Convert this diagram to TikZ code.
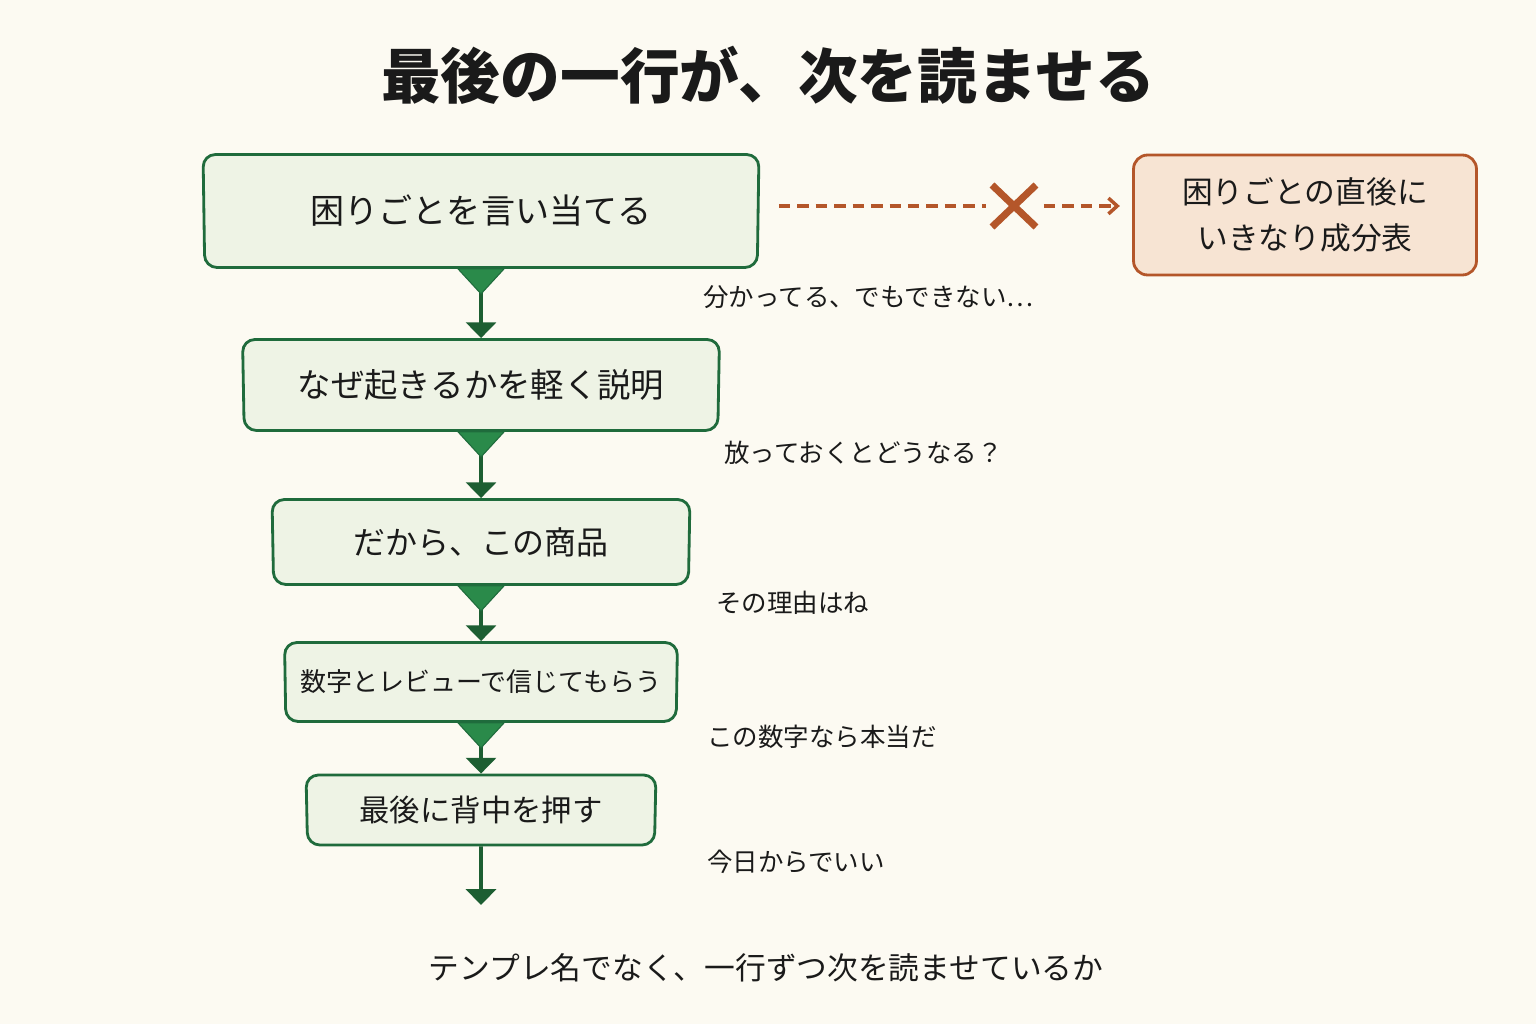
\documentclass[tikz,border=0pt]{standalone}
\usepackage{fontspec}
\setmainfont{Noto Sans CJK JP}
\usepackage{tikz}
\usetikzlibrary{arrows.meta, positioning, shapes.geometric, calc}
\definecolor{paper}{HTML}{FCFAF2}
\definecolor{ink}{HTML}{1A1A1A}
\definecolor{leafgreen}{HTML}{1F6B3C}
\definecolor{stagefill}{HTML}{EEF3E5}
\definecolor{trigreen}{HTML}{2A8A4A}
\definecolor{darkgreen}{HTML}{1D5E32}
\definecolor{rust}{HTML}{B4562A}
\definecolor{warnfill}{HTML}{F7E4D3}

\begin{document}
\begin{tikzpicture}[
			x=0.02cm, y=-0.02cm,
			stage/.style={trapezium, trapezium angle=87, shape border rotate=180, trapezium stretches body, draw=leafgreen, line width=1.6pt, fill=stagefill, rounded corners=7pt, text=ink, inner sep=0pt},
			side/.style={anchor=west, text=ink, font=\fontsize{14.5}{17}\selectfont, inner sep=0pt},
			flow/.style={draw=darkgreen, line width=2.2pt, -{Triangle[width=17pt, length=9pt]}},
			tri/.style={fill=trigreen, draw=leafgreen, line width=0.6pt},
			warnline/.style={draw=rust, line width=2pt, dash pattern=on 6.5pt off 4pt},
			xcross/.style={draw=rust, line width=4pt},
			warnbox/.style={rectangle, draw=rust, line width=1.6pt, fill=warnfill, rounded corners=8pt, align=center, text=ink, minimum width=6.86cm, minimum height=2.4cm, font=\fontsize{17.5}{26}\selectfont}
		]
		\useasboundingbox (0,0) rectangle (1536,1024);
		\fill[paper] (0,0) rectangle (1536,1024);
		
		% Title
		\node[text=ink, font=\fontsize{34}{40}\selectfont\bfseries] (title) at (768,75) {最後の一行が、次を読ませる};
		
		% Main flow
		\node[stage, minimum width=11.12cm, minimum height=2.26cm, font=\fontsize{19.4}{23}\selectfont] (b1) at (481,211) {困りごとを言い当てる};
		\node[stage, minimum width=9.54cm, minimum height=1.82cm, font=\fontsize{19}{23}\selectfont] (b2) at (481,385) {なぜ起きるかを軽く説明};
		\node[stage, minimum width=8.36cm, minimum height=1.70cm, font=\fontsize{18.2}{22}\selectfont] (b3) at (481,542) {だから、この商品};
		\node[stage, minimum width=7.86cm, minimum height=1.58cm, font=\fontsize{14.8}{18}\selectfont] (b4) at (481,682) {数字とレビューで信じてもらう};
		\node[stage, minimum width=7.00cm, minimum height=1.40cm, font=\fontsize{17.3}{21}\selectfont] (b5) at (481,810) {最後に背中を押す};
		\coordinate (end) at (481,905);
		
		\foreach \a/\b in {b1/b2, b2/b3, b3/b4, b4/b5} {
			\draw[flow] (\a.south) -- (\b.north);
			\draw[tri] ($(\a.south)+(-23,0)$) -- ($(\a.south)+(23,0)$) -- ($(\a.south)+(0,25)$) -- cycle;
		}
		\draw[flow] (b5.south) -- (end);
		
		% Labels beside the arrows
		\node[side] (l1) at (703,297) {分かってる、でもできない…};
		\node[side] (l2) at (724,453) {放っておくとどうなる？};
		\node[side] (l3) at (716,603) {その理由はね};
		\node[side] (l4) at (707,737) {この数字なら本当だ};
		\node[side] (l5) at (707,862) {今日からでいい};
		
		% Wrong path
		\node[warnbox] (warn) at (1305,215) {困りごとの直後に\\いきなり成分表};
		\coordinate (xmark) at (1014,206);
		\draw[warnline, shorten <=11pt, shorten >=16pt] (xmark -| b1.east) -- (xmark);
		\draw[warnline, -{Straight Barb[length=5pt, width=9pt]}, shorten <=17pt, shorten >=7pt] (xmark) -- (xmark -| warn.west);
		\draw[xcross] ($(xmark)+(-22,-21)$) -- ($(xmark)+(22,21)$);
		\draw[xcross] ($(xmark)+(22,-21)$) -- ($(xmark)+(-22,21)$);
		
		% Bottom question
		\node[text=ink, font=\fontsize{17.5}{21}\selectfont] (check) at (766,968) {テンプレ名でなく、一行ずつ次を読ませているか};
		\end{tikzpicture}
\end{document}
